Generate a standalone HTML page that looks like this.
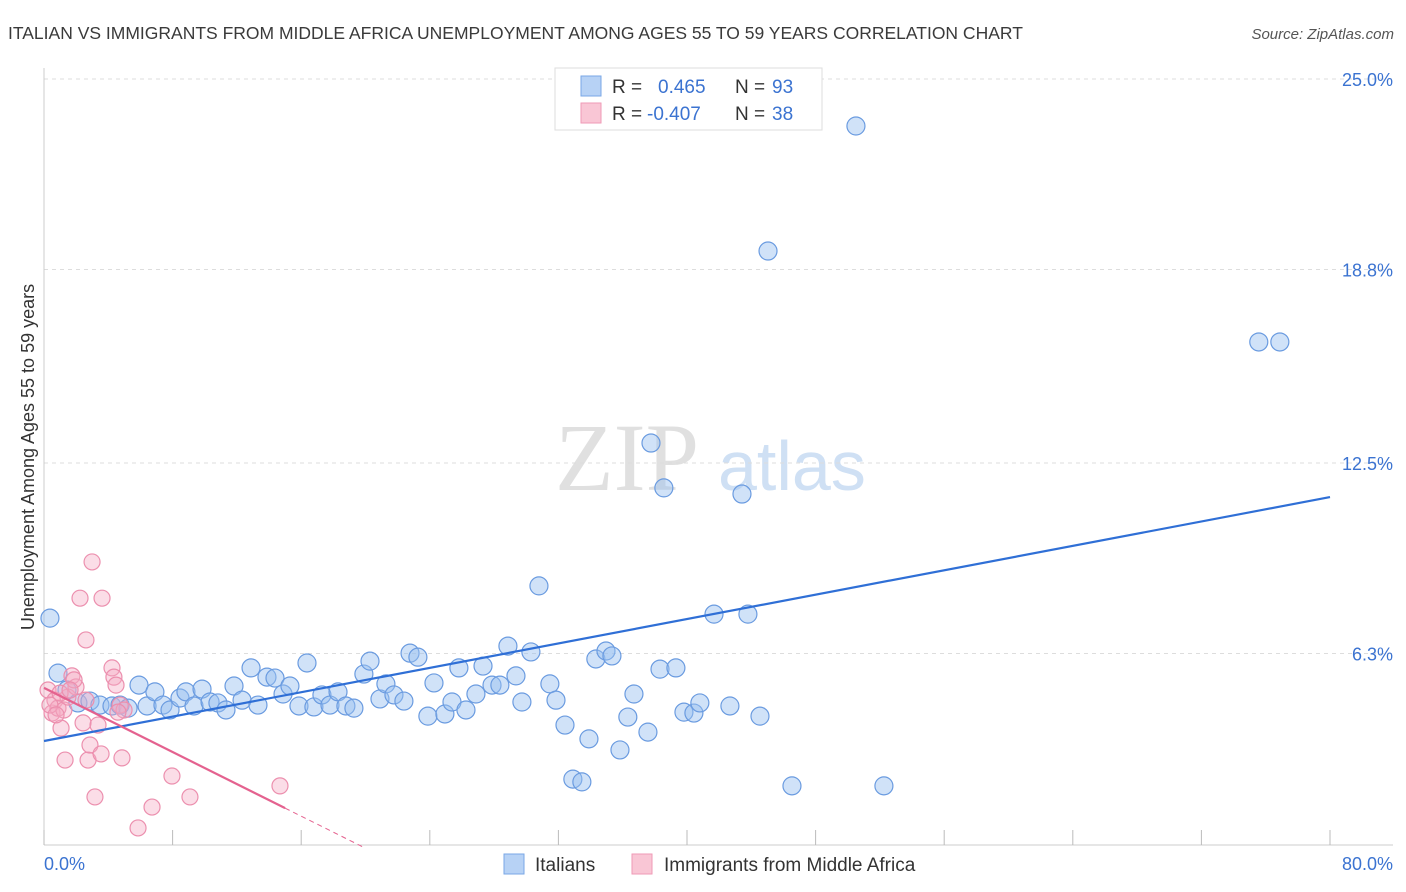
<!DOCTYPE html>
<html><head><meta charset="utf-8"><style>
body{margin:0;background:#fff;font-family:"Liberation Sans",sans-serif}
svg{display:block}
</style></head><body>
<svg id="chart" width="1406" height="892" xmlns="http://www.w3.org/2000/svg">
<text x="8" y="39" font-size="17.5" fill="#3a3a3a">ITALIAN VS IMMIGRANTS FROM MIDDLE AFRICA UNEMPLOYMENT AMONG AGES 55 TO 59 YEARS CORRELATION CHART</text>
<text x="1394" y="39" font-size="15" fill="#555" text-anchor="end" font-style="italic">Source: ZipAtlas.com</text>
<g>
<text x="555" y="490" font-size="96" fill="#e0e0e0" font-family="Liberation Serif,serif">ZIP</text>
<text x="718" y="490" font-size="70" fill="#cfe0f4">atlas</text>
</g>
<g id="grid"></g>
<g id="axes"></g>
<g id="marks"></g>
<g>
<rect x="555" y="68" width="267" height="62" fill="#fff" stroke="#ddd"/>
<rect x="581" y="76" width="20" height="20" fill="#b7d2f5" stroke="#7aa7e6"/>
<rect x="581" y="103" width="20" height="20" fill="#f9c6d5" stroke="#ef9ab6"/>
<text x="612" y="93" font-size="19" fill="#333">R = </text><text x="658" y="93" font-size="19" fill="#3b73d1">0.465</text>
<text x="735" y="93" font-size="19" fill="#333">N = </text><text x="772" y="93" font-size="19" fill="#3b73d1">93</text>
<text x="612" y="120" font-size="19" fill="#333">R = </text><text x="647" y="120" font-size="19" fill="#3b73d1">-0.407</text>
<text x="735" y="120" font-size="19" fill="#333">N = </text><text x="772" y="120" font-size="19" fill="#3b73d1">38</text>
</g>
<g>
<rect x="504" y="854" width="20" height="20" fill="#b7d2f5" stroke="#7aa7e6"/>
<text x="535" y="871" font-size="19" fill="#333">Italians</text>
<rect x="632" y="854" width="20" height="20" fill="#f9c6d5" stroke="#ef9ab6"/>
<text x="664" y="871" font-size="19" fill="#333">Immigrants from Middle Africa</text>
</g>
<text transform="translate(34,457) rotate(-90)" font-size="18" fill="#333" text-anchor="middle">Unemployment Among Ages 55 to 59 years</text>
</svg>
<script>
const yTicks=[6.3,12.5,18.8,25.0];
const yTickLabels=["6.3%","12.5%","18.8%","25.0%"];
const xTicks=[0,8,16,24,32,40,48,56,64,72,80];
const blueX=[0.37,0.87,1.43,2.11,2.86,3.48,4.23,4.73,5.23,5.91,6.41,6.9,7.4,7.84,8.46,8.83,9.33,9.83,10.33,10.82,11.32,11.82,12.32,12.88,13.31,13.87,14.37,14.87,15.3,15.86,16.36,16.79,17.29,17.79,18.29,18.78,19.28,19.9,20.28,20.9,21.27,21.77,22.39,22.77,23.26,23.88,24.26,24.94,25.38,25.81,26.25,26.87,27.31,27.87,28.36,28.86,29.36,29.73,30.29,30.79,31.47,31.85,32.41,32.9,33.46,33.9,34.33,34.96,35.33,35.83,36.32,36.7,37.57,37.76,38.32,38.56,39.31,39.81,40.43,40.8,41.68,42.67,43.42,43.79,44.54,45.04,46.53,50.51,52.25,75.57,76.88];
const blueY=[7.45,5.66,5.11,4.69,4.75,4.62,4.59,4.62,4.52,5.27,4.59,5.05,4.62,4.46,4.85,5.05,4.59,5.14,4.72,4.69,4.46,5.24,4.78,5.83,4.62,5.53,5.5,4.98,5.24,4.59,5.99,4.56,4.95,4.62,5.05,4.59,4.52,5.63,6.05,4.82,5.31,4.95,4.75,6.31,6.18,4.26,5.34,4.33,4.72,5.83,4.46,4.98,5.89,5.27,5.27,6.54,5.57,4.72,6.35,8.5,5.31,4.78,3.97,2.21,2.12,3.52,6.12,6.38,6.22,3.16,4.23,4.98,3.74,13.15,5.79,11.69,5.83,4.39,4.36,4.69,7.58,4.59,11.49,7.58,4.26,19.4,1.99,23.47,1.99,16.44,16.44];
const pinkX=[0.25,0.5,0.68,0.87,1.06,1.24,1.49,1.74,1.99,2.24,2.43,2.61,2.74,2.86,2.99,3.17,3.36,3.55,3.61,4.23,4.35,4.48,4.73,4.85,4.98,5.85,6.72,7.96,9.08,14.68,0.37,0.75,1.31,1.87,2.61,1.0,1.62,4.6];
const pinkY=[5.11,4.36,4.78,4.52,3.87,4.46,4.88,5.57,5.21,8.1,4.04,6.74,2.83,3.32,9.28,1.63,3.97,3.03,8.1,5.83,5.53,5.27,4.62,2.9,4.46,0.62,1.3,2.31,1.63,1.99,4.62,4.3,2.83,5.44,4.78,5.01,5.11,4.39];
const blueTrend=[3.45,11.39]; // y at x=0 and x=80
const pinkTrend=[5.18,-0.261]; // intercept, slope
const pinkSolidEnd=15.0, pinkDashEnd=19.8;
const X=v=>44+v*16.075, Y=v=>847-v*30.72;
const NS="http://www.w3.org/2000/svg";
function mk(t,a,p){const e=document.createElementNS(NS,t);for(const k in a)e.setAttribute(k,a[k]);p.appendChild(e);return e;}
const grid=document.getElementById('grid'),axes=document.getElementById('axes'),marks=document.getElementById('marks');
yTicks.forEach((t,i)=>{
 const l=mk('line',{x1:44,x2:1393,y1:Y(t),y2:Y(t),stroke:'#ddd','stroke-dasharray':'4,4'},grid);
 
 
 const tx=mk('text',{x:1393,y:Y(t)+7,'font-size':18,fill:'#3b73d1','text-anchor':'end'},axes);
 tx.textContent=yTickLabels[i];
 
 
});
const ax=mk('line',{x1:44,x2:1393,y1:845,y2:845,stroke:'#ccc'},axes);


const ay=mk('line',{x1:44,x2:44,y1:68,y2:845,stroke:'#ccc'},axes);


xTicks.forEach(t=>{
 const l=mk('line',{x1:X(t),x2:X(t),y1:830,y2:845,stroke:'#bbb'},axes);
 
 
});
[[0,'0.0%','start',44],[80,'80.0%','end',1393]].forEach(d=>{
 const tx=mk('text',{x:d[3],y:870,'font-size':18,fill:'#3b73d1','text-anchor':d[2]},axes);
 tx.textContent=d[1];
 
 
});
blueX.forEach((v,i)=>{
 const c=mk('circle',{cx:X(v),cy:Y(blueY[i]),r:9,fill:'rgba(150,190,240,0.45)',stroke:'#6a9be0','stroke-width':1.2},marks);
 
 
});
pinkX.forEach((v,i)=>{
 const c=mk('circle',{cx:X(v),cy:Y(pinkY[i]),r:8,fill:'rgba(245,170,195,0.4)',stroke:'#ec8fae','stroke-width':1.2},marks);
 
 
});
const bt=mk('line',{x1:X(0),y1:Y(blueTrend[0]),x2:X(80),y2:Y(blueTrend[1]),stroke:'#2f6fd6','stroke-width':2.2},marks);


const pt=mk('line',{x1:X(0),y1:Y(pinkTrend[0]),x2:X(pinkSolidEnd),y2:Y(pinkTrend[0]+pinkTrend[1]*pinkSolidEnd),stroke:'#e4628f','stroke-width':2.2},marks);


const pd=mk('line',{x1:X(pinkSolidEnd),y1:Y(pinkTrend[0]+pinkTrend[1]*pinkSolidEnd),x2:X(pinkDashEnd),y2:Y(pinkTrend[0]+pinkTrend[1]*pinkDashEnd),stroke:'#e4628f','stroke-width':1,'stroke-dasharray':'5,4'},marks);


</script>
</body></html>
